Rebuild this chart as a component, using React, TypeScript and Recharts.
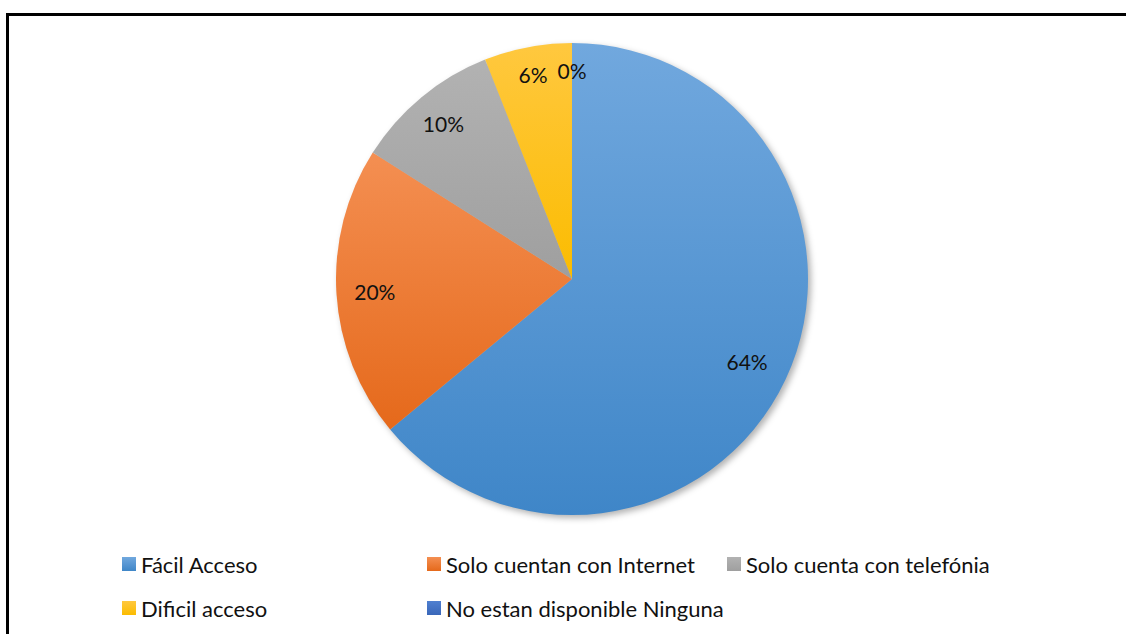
import { PieChart, Pie, Cell, Legend } from 'recharts'

const categories = [
  'Fácil Acceso',
  'Solo cuentan con Internet',
  'Solo cuenta con telefónia',
  'Dificil acceso',
  'No estan disponible Ninguna',
]
const values = [64, 20, 10, 6, 0]

const gradients = [
  ['#71a8de', '#3f86c8'],
  ['#f48f52', '#e5691b'],
  ['#b2b2b2', '#9f9f9f'],
  ['#ffc83f', '#fbbc00'],
  ['#4f7fd0', '#3a67b9'],
]

const data = categories.map((name, i) => ({ name, value: values[i] }))

const RADIAN = Math.PI / 180
const font = 'Lato, "Open Sans", sans-serif'

const renderLabel = (props: any) => {
  const { cx, cy, midAngle, outerRadius, percent } = props
  let f = 0.82
  if (percent < 0.5) f = 0.837
  if (percent < 0.15) f = 0.855
  if (percent < 0.08) f = 0.882
  const r = outerRadius * f
  const x = cx + r * Math.cos(-midAngle * RADIAN)
  const y = cy + r * Math.sin(-midAngle * RADIAN)
  return (
    <text
      x={x}
      y={y}
      fill='#111'
      fontSize={21}
      fontFamily={font}
      textAnchor='middle'
      dominantBaseline='central'
    >
      {`${Math.round(percent * 100)}%`}
    </text>
  )
}

// legend keeps the series order (recharts sorts by name otherwise)
const renderLegend = () => (
  <div
    style={{
      display: 'grid',
      gridTemplateColumns: '305px 300px auto',
      rowGap: 20,
      fontFamily: font,
      fontSize: 22,
      color: '#111',
    }}
  >
    {categories.map((name, i) => (
      <div key={name} style={{ display: 'flex', alignItems: 'center', height: 24 }}>
        <span
          style={{
            width: 14,
            height: 14,
            marginRight: 5,
            background: `linear-gradient(${gradients[i][0]}, ${gradients[i][1]})`,
          }}
        />
        <span>{name}</span>
      </div>
    ))}
  </div>
)

export default function App() {
  return (
    <div
      style={{
        position: 'fixed',
        left: 0,
        top: 0,
        width: 1126,
        height: 634,
        overflow: 'hidden',
        background: '#fff',
      }}
    >
      <style>{`.recharts-pie-sectors, .recharts-pie > g:first-child { filter: drop-shadow(3px 3px 3px rgba(0,0,0,0.3)); }`}</style>
      <div
        style={{
          position: 'absolute',
          left: 6,
          top: 13,
          width: 1200,
          height: 700,
          borderTop: '3px solid #000',
          borderLeft: '3px solid #000',
        }}
      />
      <div style={{ position: 'absolute', left: 0, top: 0 }}>
        <PieChart width={1126} height={634} margin={{ top: 0, right: 0, bottom: 0, left: 0 }}>
          <defs>
            {gradients.map((g, i) => (
              <linearGradient key={i} id={`g${i}`} x1='0' y1='0' x2='0' y2='1'>
                <stop offset='0%' stopColor={g[0]} />
                <stop offset='100%' stopColor={g[1]} />
              </linearGradient>
            ))}
          </defs>
          <Pie
            data={data}
            dataKey='value'
            nameKey='name'
            cx={572}
            cy={279}
            outerRadius={236}
            startAngle={90}
            endAngle={-270}
            stroke='none'
            label={renderLabel}
            labelLine={false}
            isAnimationActive={false}
          >
            {data.map((d, i) => (
              <Cell key={d.name} fill={`url(#g${i})`} />
            ))}
          </Pie>
          <Legend
            content={renderLegend}
            wrapperStyle={{ position: 'absolute', left: 122, top: 552, width: 960 }}
          />
        </PieChart>
      </div>
    </div>
  )
}
